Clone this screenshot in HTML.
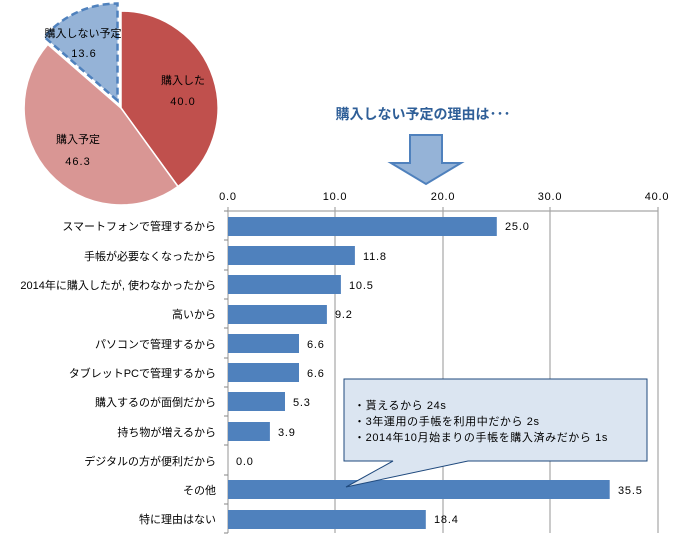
<!DOCTYPE html>
<html><head><meta charset="utf-8"><style>
body{margin:0;background:#fff;}
svg text{font-family:"Liberation Sans","Noto Sans CJK JP",sans-serif;}
</style></head><body>
<svg width="679" height="540" xmlns="http://www.w3.org/2000/svg">
<rect width="679" height="540" fill="#fff"/>
<path d="M121,108 L121,11 A97,97 0 0 1 178.0,186.5 Z" fill="#c0504d" stroke="#fff" stroke-width="1.5"/>
<path d="M121,108 L178.0,186.5 A97,97 0 0 1 47.8,44.4 Z" fill="#d99694" stroke="#fff" stroke-width="1.5"/>
<path d="M117.5,100.5 L44.3,36.9 A97,97 0 0 1 117.5,3.5 Z" fill="#95b3d7" stroke="#4f81bd" stroke-width="2.5" stroke-dasharray="7,4"/>
<g font-size="11" fill="#000" text-anchor="middle">
<text x="83" y="37">購入しない予定</text><text x="84" y="57" letter-spacing="1">13.6</text>
<text x="183" y="84">購入した</text><text x="183" y="105" letter-spacing="1">40.0</text>
<text x="78" y="143">購入予定</text><text x="78" y="165" letter-spacing="1">46.3</text>
</g>
<text x="423" y="119" font-size="14" font-weight="bold" fill="#2f5f98" text-anchor="middle">購入しない予定の理由は･･･</text>
<path d="M410,135 L442,135 L442,163 L461,163 L426,184 L391,163 L410,163 Z" fill="#95b3d7" stroke="#4f81bd" stroke-width="2"/>
<g font-size="11" fill="#000" text-anchor="middle" letter-spacing="0.8">
<text x="228" y="200">0.0</text><text x="335" y="200">10.0</text><text x="443" y="200">20.0</text><text x="550" y="200">30.0</text><text x="657" y="200">40.0</text>
</g>
<g stroke="#a6a6a6" stroke-width="1.2">
<line x1="228" y1="211" x2="658" y2="211"/>
<line x1="335" y1="207" x2="335" y2="533"/><line x1="443" y1="207" x2="443" y2="533"/><line x1="550" y1="207" x2="550" y2="533"/><line x1="658" y1="207" x2="658" y2="533"/>
<line x1="228" y1="207" x2="228" y2="533"/>
</g>
<g stroke="#868686">
<line x1="224" y1="211" x2="228" y2="211"/><line x1="224" y1="240" x2="228" y2="240"/><line x1="224" y1="270" x2="228" y2="270"/><line x1="224" y1="299" x2="228" y2="299"/><line x1="224" y1="328" x2="228" y2="328"/><line x1="224" y1="358" x2="228" y2="358"/><line x1="224" y1="387" x2="228" y2="387"/><line x1="224" y1="416" x2="228" y2="416"/><line x1="224" y1="445" x2="228" y2="445"/><line x1="224" y1="475" x2="228" y2="475"/><line x1="224" y1="504" x2="228" y2="504"/><line x1="224" y1="533" x2="228" y2="533"/>
</g>
<g fill="#4f81bd">
<rect x="228" y="217" width="268.8" height="19"/>
<rect x="228" y="246" width="126.9" height="19"/>
<rect x="228" y="275" width="112.9" height="19"/>
<rect x="228" y="305" width="98.9" height="19"/>
<rect x="228" y="334" width="71" height="19"/>
<rect x="228" y="363" width="71" height="19"/>
<rect x="228" y="392" width="57" height="19"/>
<rect x="228" y="422" width="41.9" height="19"/>
<rect x="228" y="480" width="381.7" height="19"/>
<rect x="228" y="510" width="197.8" height="19"/>
</g>
<g font-size="11" fill="#000" letter-spacing="0.8">
<text x="505" y="230">25.0</text><text x="363" y="260">11.8</text><text x="349" y="289">10.5</text><text x="335" y="318">9.2</text><text x="307" y="348">6.6</text><text x="307" y="377">6.6</text><text x="293" y="406">5.3</text><text x="278" y="436">3.9</text><text x="236" y="465">0.0</text><text x="618" y="494">35.5</text><text x="434" y="523">18.4</text>
</g>
<g font-size="11" fill="#000" text-anchor="end">
<text x="216" y="230">スマートフォンで管理するから</text>
<text x="216" y="260">手帳が必要なくなったから</text>
<text x="216" y="289">2014年に購入したが, 使わなかったから</text>
<text x="216" y="318">高いから</text>
<text x="216" y="348">パソコンで管理するから</text>
<text x="216" y="377">タブレットPCで管理するから</text>
<text x="216" y="406">購入するのが面倒だから</text>
<text x="216" y="436">持ち物が増えるから</text>
<text x="216" y="465">デジタルの方が便利だから</text>
<text x="216" y="494">その他</text>
<text x="216" y="523">特に理由はない</text>
</g>
<path d="M344,379 L647,379 L647,461 L468,461 L346,487 L393,461 L344,461 Z" fill="#dbe5f1" stroke="#1f497d" stroke-width="1"/>
<g font-size="11" fill="#000" letter-spacing="0.6">
<text x="354" y="409">・貰えるから  24s</text>
<text x="354" y="425">・3年運用の手帳を利用中だから  2s</text>
<text x="354" y="441">・2014年10月始まりの手帳を購入済みだから  1s</text>
</g>
</svg>
</body></html>
